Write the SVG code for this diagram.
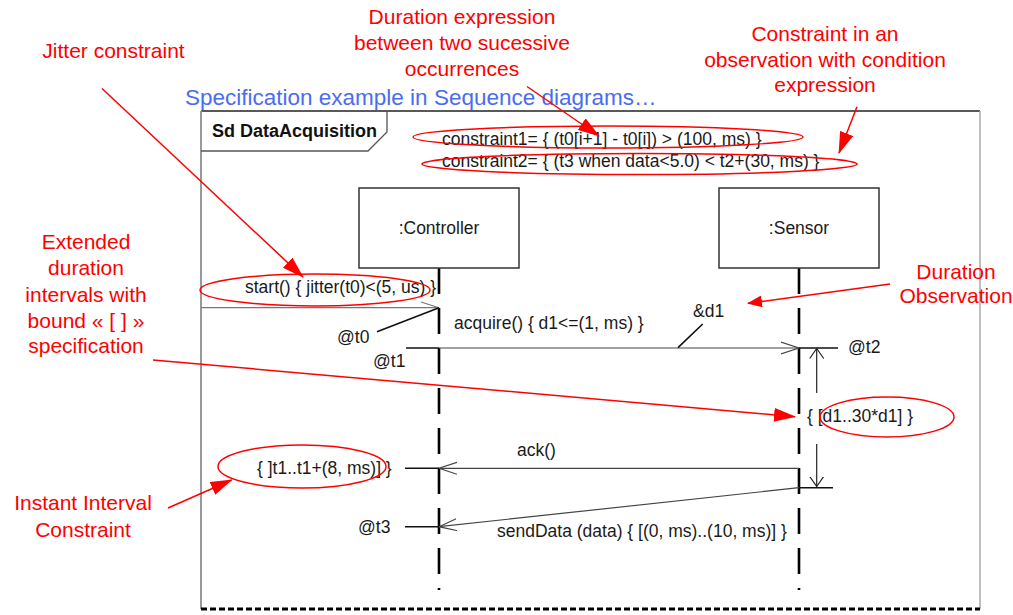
<svg xmlns="http://www.w3.org/2000/svg" width="1013" height="615" viewBox="0 0 1013 615">
<style>
  text { font-family: "Liberation Sans", Arial, sans-serif; }
  .lbl { font-size: 17.5px; fill: #1a1a1a; }
  .note { font-size: 21px; fill: #ff0000; text-anchor: middle; }
  .red { stroke: #ff0000; stroke-width: 1.5; fill: none; }
  .msg { stroke: #444; stroke-width: 1.2; fill: none; }
  .tick { stroke: #111; stroke-width: 1.6; fill: none; }
  .life { stroke: #000; stroke-width: 2.6; stroke-dasharray: 26 14; fill: none; }
  .box { fill: #fff; stroke: #333; stroke-width: 1.5; }
</style>
<defs>
  <marker id="redArrow" markerUnits="userSpaceOnUse" markerWidth="22" markerHeight="14" viewBox="0 0 22 14" refX="21" refY="7" orient="auto">
    <path d="M0,0 L22,7 L0,14 z" fill="#ff0000"/>
  </marker>
  <marker id="redArrowSmall" markerUnits="userSpaceOnUse" markerWidth="15" markerHeight="12" viewBox="0 0 15 12" refX="14" refY="6" orient="auto">
    <path d="M0,0 L15,6 L0,12 z" fill="#ff0000"/>
  </marker>
  <marker id="open" markerUnits="userSpaceOnUse" markerWidth="20" markerHeight="14" viewBox="0 0 20 14" refX="18" refY="7" orient="auto">
    <path d="M0,1 L18,7 L0,13" fill="none" stroke="#444" stroke-width="1.2"/>
  </marker>
  <marker id="dur" markerUnits="userSpaceOnUse" markerWidth="12" markerHeight="16" viewBox="0 0 12 16" refX="10" refY="8" orient="auto">
    <path d="M0,1 L10,8 L0,15" fill="none" stroke="#222" stroke-width="1.2"/>
  </marker>
</defs>
<rect width="1013" height="615" fill="#fff"/>

<text x="185" y="105" font-size="22.5" fill="#4a6cf0">Specification example in Sequence diagrams…</text>

<g id="frame">
  <line x1="201" y1="111" x2="980" y2="111" stroke="#222" stroke-width="1.5"/>
  <line x1="201" y1="111" x2="201" y2="609" stroke="#999" stroke-width="2"/>
  <line x1="980" y1="111" x2="980" y2="609" stroke="#aaa" stroke-width="1.5"/>
  <line x1="201" y1="609" x2="980" y2="609" stroke="#000" stroke-width="3" stroke-dasharray="6 3"/>
  <polyline points="201,151 368,151 387,132 387,111" fill="none" stroke="#555" stroke-width="1.3"/>
  <text x="212" y="137" font-size="18" font-weight="bold" fill="#111">Sd DataAcquisition</text>
</g>

<g id="constraints">
  <text class="lbl" x="442" y="145">constraint1= { (t0[i+1] - t0[i]) &gt; (100, ms) }</text>
  <text class="lbl" x="442" y="167">constraint2= { (t3 when data&lt;5.0) &lt; t2+(30, ms) }</text>
</g>

<g id="controller">
  <line class="life" x1="439" y1="268" x2="439" y2="590"/>
  <rect class="box" x="359" y="188" width="160" height="80"/>
  <text class="lbl" x="439" y="234" text-anchor="middle">:Controller</text>
</g>

<g id="sensor">
  <line class="life" x1="799" y1="268" x2="799" y2="590"/>
  <rect class="box" x="719" y="188" width="160" height="80"/>
  <text class="lbl" x="799" y="234" text-anchor="middle">:Sensor</text>
</g>

<g id="connectors">
  <!-- start message -->
  <line x1="201" y1="307.7" x2="439" y2="307.7" stroke="#777" stroke-width="1.2"/>
  <line x1="421" y1="302" x2="439" y2="307.7" stroke="#777" stroke-width="1.2"/>
  <line class="tick" x1="377" y1="331.7" x2="439" y2="307.7"/>
  <!-- acquire -->
  <line class="tick" x1="406" y1="348" x2="439" y2="348"/>
  <line class="msg" x1="439" y1="348" x2="799" y2="348" marker-end="url(#open)"/>
  <line class="tick" x1="678" y1="347.7" x2="702.7" y2="324"/>
  <line class="tick" x1="799" y1="348" x2="838" y2="348"/>
  <!-- duration interval -->
  <line x1="816.7" y1="393" x2="816.7" y2="348.5" stroke="#222" stroke-width="1.2" marker-end="url(#dur)"/>
  <line x1="816.7" y1="444" x2="816.7" y2="486.5" stroke="#222" stroke-width="1.2" marker-end="url(#dur)"/>
  <!-- ack -->
  <line class="msg" x1="799" y1="468.3" x2="439" y2="468.3" marker-end="url(#open)"/>
  <line class="tick" x1="405" y1="468.3" x2="439" y2="468.3"/>
  <!-- sendData -->
  <line class="tick" x1="799" y1="487.7" x2="833" y2="487.7"/>
  <line class="msg" x1="799" y1="487.7" x2="439" y2="526.7" marker-end="url(#open)"/>
  <line class="tick" x1="405" y1="526.7" x2="439" y2="526.7"/>
</g>

<g id="labels">
  <text class="lbl" x="245" y="293">start() { jitter(t0)&lt;(5, us) }</text>
  <text class="lbl" x="337" y="343">@t0</text>
  <text class="lbl" x="454" y="329">acquire() { d1&lt;=(1, ms) }</text>
  <text class="lbl" x="373" y="367">@t1</text>
  <text class="lbl" x="693" y="317">&amp;d1</text>
  <text class="lbl" x="848" y="353">@t2</text>
  <text class="lbl" x="807" y="422">{ [d1..30*d1] }</text>
  <text class="lbl" x="517" y="456">ack()</text>
  <text class="lbl" x="257" y="474">{ ]t1..t1+(8, ms)] }</text>
  <text class="lbl" x="358" y="533">@t3</text>
  <text class="lbl" x="497" y="537">sendData (data) { [(0, ms)..(10, ms)] }</text>
</g>

<g id="highlights">
  <ellipse class="red" cx="608" cy="137" rx="195" ry="11"/>
  <ellipse class="red" cx="639.5" cy="164" rx="217.5" ry="10.5"/>
  <ellipse class="red" cx="315" cy="290" rx="115" ry="16"/>
  <ellipse class="red" cx="887" cy="417" rx="67" ry="20"/>
  <ellipse class="red" cx="302" cy="466.5" rx="84" ry="21.5"/>
</g>

<g id="annotations">
  <text class="note" x="113.5" y="58">Jitter constraint</text>
  <line class="red" x1="102" y1="88.5" x2="303" y2="277" marker-end="url(#redArrow)"/>

  <text class="note" x="462" y="24">Duration expression</text>
  <text class="note" x="462" y="50">between two sucessive</text>
  <text class="note" x="462" y="76">occurrences</text>
  <line class="red" x1="527" y1="86.5" x2="599" y2="136" marker-end="url(#redArrow)"/>

  <text class="note" x="825" y="41">Constraint in an</text>
  <text class="note" x="825" y="67">observation with condition</text>
  <text class="note" x="825" y="92">expression</text>
  <line class="red" x1="857" y1="106.7" x2="839" y2="153" marker-end="url(#redArrow)"/>

  <text class="note" x="956" y="279">Duration</text>
  <text class="note" x="956" y="303">Observation</text>
  <line class="red" x1="890" y1="284" x2="748" y2="303.3" marker-end="url(#redArrowSmall)"/>

  <text class="note" x="86" y="249">Extended</text>
  <text class="note" x="86" y="275">duration</text>
  <text class="note" x="86" y="302">intervals with</text>
  <text class="note" x="86" y="328">bound « [ ] »</text>
  <text class="note" x="86" y="353">specification</text>
  <line class="red" x1="153" y1="360" x2="795" y2="416.7" marker-end="url(#redArrow)"/>

  <text class="note" x="83" y="510">Instant Interval</text>
  <text class="note" x="83" y="537">Constraint</text>
  <line class="red" x1="168" y1="508" x2="231.7" y2="480" marker-end="url(#redArrow)"/>
</g>
</svg>
